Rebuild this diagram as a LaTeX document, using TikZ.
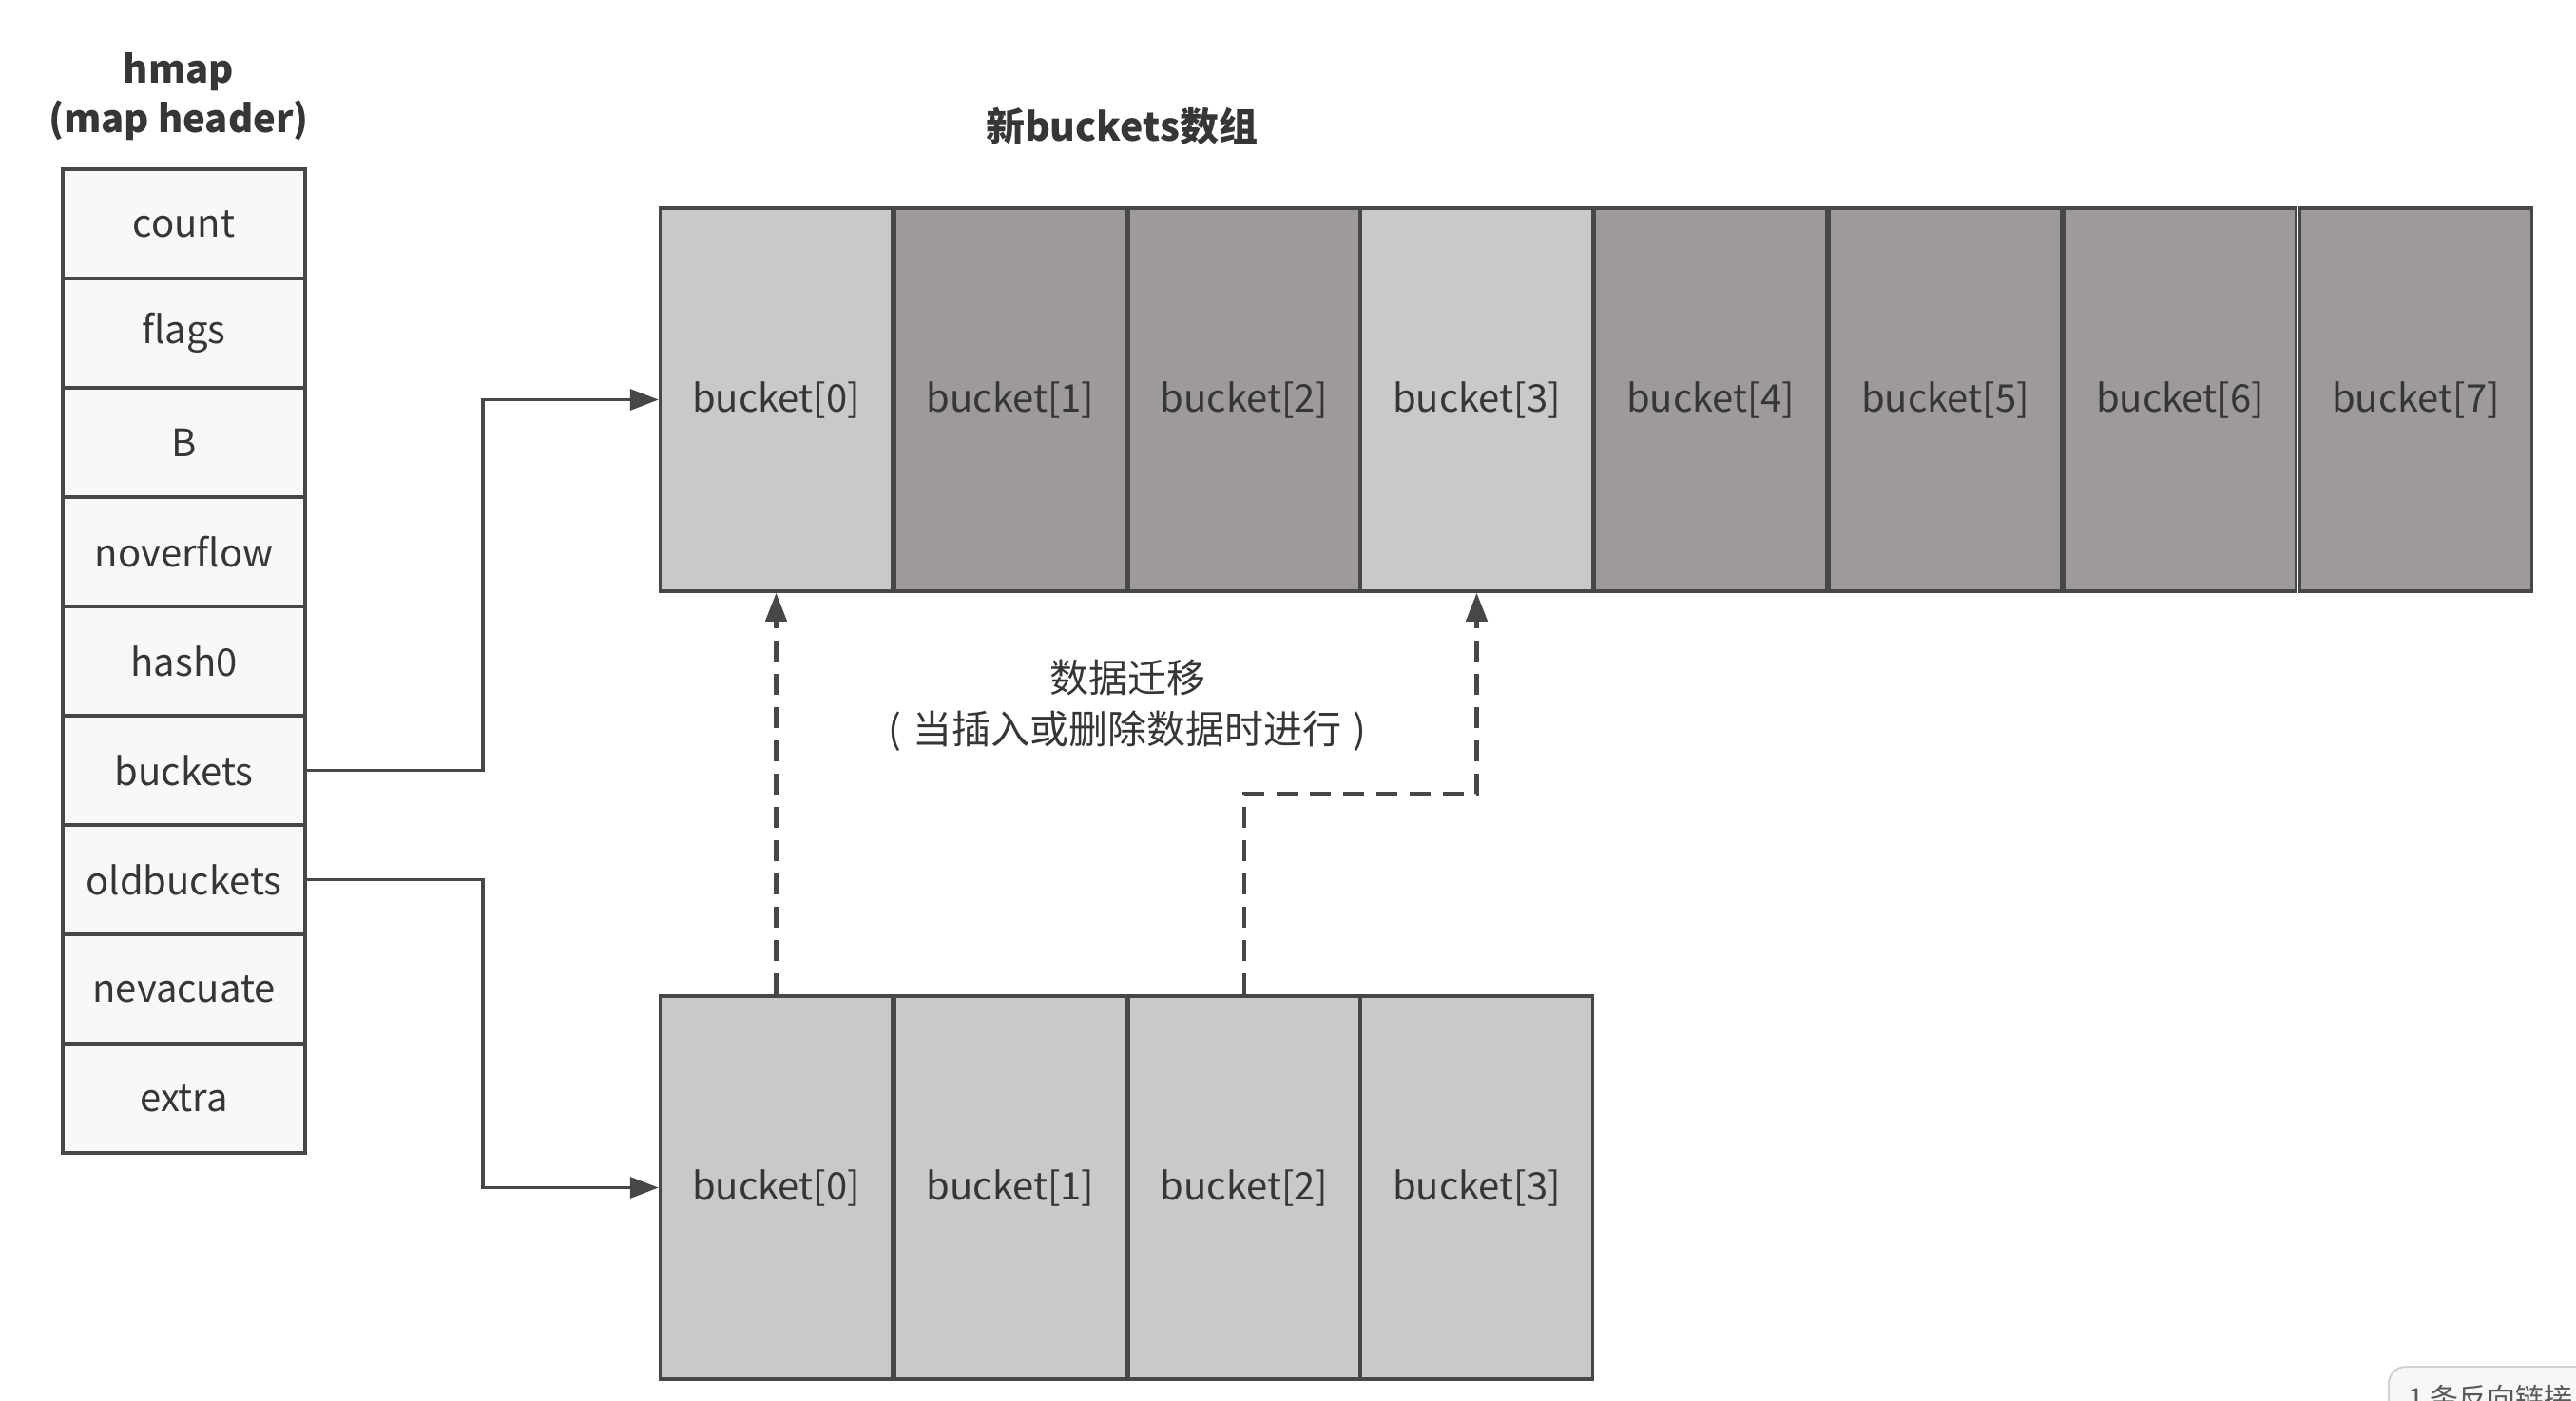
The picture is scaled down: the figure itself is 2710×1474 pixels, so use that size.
\documentclass[tikz,border=0pt]{standalone}
\usepackage{fontspec}
\setmainfont{Noto Sans CJK SC}
\usetikzlibrary{arrows.meta,positioning}
\definecolor{edge}{HTML}{474747}
\definecolor{txt}{HTML}{363636}
\definecolor{lightcell}{HTML}{C9C9C9}
\definecolor{darkcell}{HTML}{9E9A9B}
\definecolor{hcell}{HTML}{F8F8F8}
\tikzset{
  hfield/.style={draw=edge, line width=3.5pt, fill=hcell, minimum width=255pt, minimum height=115pt, inner sep=0pt, text=txt, font=\fontsize{40}{48}\selectfont},
  bcell/.style={draw=edge, line width=3.5pt, minimum width=244pt, minimum height=403pt, inner sep=0pt, text=txt, font=\fontsize{40}{48}\selectfont},
  lt/.style={bcell, fill=lightcell},
  dk/.style={bcell, fill=darkcell},
  arr/.style={draw=edge, line width=3.5pt, -{Triangle[length=30pt,width=22pt]}},
  darr/.style={arr, line width=4.5pt, dash pattern=on 22pt off 13pt, -{Triangle[length=30pt,width=22pt]}},
  lbl/.style={text=txt, align=center, inner sep=0pt}
}
\begin{document}
\begin{tikzpicture}[x=1pt,y=-1pt]
\useasboundingbox[fill=white] (0,0) rectangle (2710,1474);
% title of header
\node[lbl, font=\bfseries\fontsize{40}{52}\selectfont] (htitle) at (188,102) {hmap\\(map header)};
% hmap fields
\foreach \n/\t [count=\i from 0] in {hcount/count,hflags/flags,hB/B,hnoverflow/noverflow,hhash/hash0,hbuckets/buckets,holdbuckets/oldbuckets,hnevacuate/nevacuate,hextra/extra}{
  \node[hfield] (\n) at (193.5,{178+115*(\i+0.5)}) {\t};
}
% new buckets title
\node[lbl, font=\bfseries\fontsize{41}{48}\selectfont] (ntitle) at (1180,133) {新buckets数组};
% top array
\node[lt] (t0) at (816.5,420.5) {bucket[0]};
\node[dk] (t1) at (1063,420.5) {bucket[1]};
\node[dk] (t2) at (1309,420.5) {bucket[2]};
\node[lt] (t3) at (1553.5,420.5) {bucket[3]};
\node[dk] (t4) at (1799.5,420.5) {bucket[4]};
\node[dk] (t5) at (2046.5,420.5) {bucket[5]};
\node[dk] (t6) at (2293.5,420.5) {bucket[6]};
\node[dk] (t7) at (2541.5,420.5) {bucket[7]};
% bottom array
\node[lt] (b0) at (816.5,1249.5) {bucket[0]};
\node[lt] (b1) at (1063,1249.5) {bucket[1]};
\node[lt] (b2) at (1309,1249.5) {bucket[2]};
\node[lt] (b3) at (1553.5,1249.5) {bucket[3]};
% migration label
\node[lbl, font=\fontsize{41}{54}\selectfont] (mig) at (1186,742) {数据迁移\\(\hspace{12pt}当插入或删除数据时进行\hspace{12pt})};
% connectors
\draw[arr] (hbuckets.east) -- ++(185,0) |- (t0.west);
\draw[arr] (holdbuckets.east) -- ++(185,0) |- (b0.west);
\draw[darr] (b0.north) -- (t0.south);
\draw[darr] (b2.north) -- ++(0,-211) -| (t3.south);
% cropped UI badge at bottom right
\begin{scope}
\clip (0,0) rectangle (2710,1474);
\draw[draw=black!18, fill=black!3, line width=2pt, rounded corners=18pt] (2513,1438) rectangle (2760,1530);
\node[anchor=north west, inner sep=0pt, text=black!65, font=\fontsize{30}{36}\selectfont] (badge) at (2533,1457) {1 条反向链接};
\end{scope}
\end{tikzpicture}
\end{document}
